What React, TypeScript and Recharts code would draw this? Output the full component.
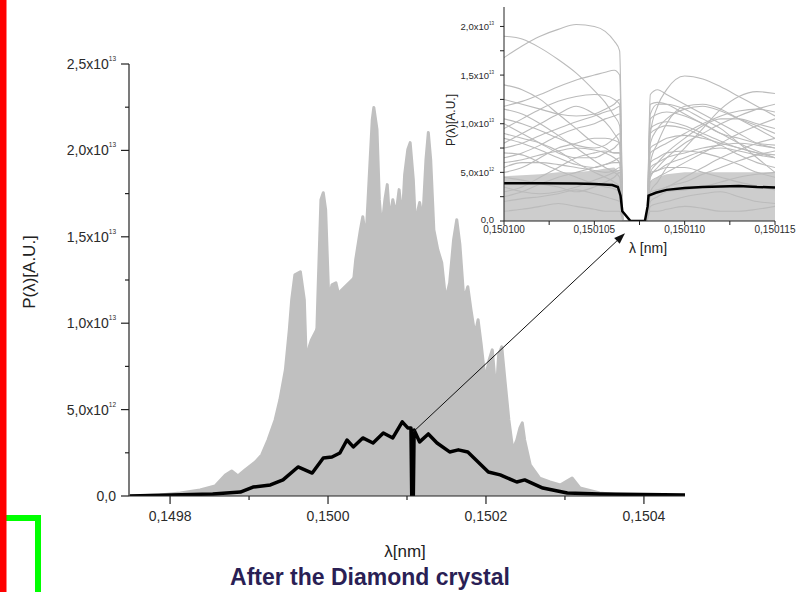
import React from 'react';
import { ComposedChart, Line, Area, XAxis, YAxis, ReferenceLine } from 'recharts';

const FONT = '"Liberation Sans", Arial, sans-serif';

// ---- main plot: wavelength in nm, power in units of 1e12 (A.U.)
const mainXTicks = [0.1498, 0.1499, 0.15, 0.1501, 0.1502, 0.1503, 0.1504];
const mainYTicks = [0, 2.5, 5, 7.5, 10, 12.5, 15, 17.5, 20, 22.5, 25];

// outline of the single-shot spectra (grey spikes)
const envelopeLambda = [
  0.149749, 0.149787, 0.149813, 0.149838, 0.149857, 0.14987, 0.149878, 0.149886, 0.149895, 0.149908,
  0.149916, 0.149924, 0.149933, 0.149939, 0.149946, 0.149951, 0.149954, 0.149958, 0.149965, 0.14997,
  0.149972, 0.149976, 0.14998, 0.149984, 0.149987, 0.149991, 0.149994, 0.149997, 0.150001, 0.150005,
  0.15001, 0.150015, 0.15002, 0.150025, 0.15003, 0.150035, 0.150041, 0.150044, 0.150048, 0.150052,
  0.150056, 0.150058, 0.150062, 0.150065, 0.150068, 0.150072, 0.150075, 0.150078, 0.150082, 0.150086,
  0.15009, 0.150094, 0.150097, 0.150101, 0.150104, 0.150108, 0.150111, 0.150114, 0.150116, 0.15012,
  0.150124, 0.150127, 0.15013, 0.150134, 0.150139, 0.150144, 0.150149, 0.150154, 0.150159, 0.150163,
  0.150167, 0.150172, 0.150177, 0.150181, 0.150186, 0.15019, 0.150194, 0.150199, 0.150204, 0.150208,
  0.150213, 0.150216, 0.15022, 0.150224, 0.150229, 0.150234, 0.150239, 0.150243, 0.150246, 0.150249,
  0.150256, 0.150268, 0.150281, 0.150294, 0.150309, 0.150319, 0.150344, 0.15037, 0.150452,
];
const envelopePower = [
  0, 0.06, 0.17, 0.35, 0.58, 1.22, 1.45, 1.16, 1.51, 1.97,
  2.38, 3.24, 4.4, 5.56, 7.3, 9.62, 11.36, 12.8, 12.98, 11.36,
  8.46, 6.72, 7.18, 6.72, 11.36, 17.15, 17.55, 16.57, 11.36, 12.22,
  12.34, 11.36, 11.65, 11.94, 11.36, 13.67, 15.41, 16.16, 14.83, 18.31,
  21.78, 22.48, 21.21, 17.15, 15.41, 17.15, 18.02, 15.99, 17.15, 16.28,
  17.73, 15.99, 18.6, 20.05, 20.45, 18.31, 15.41, 16.57, 16.98, 15.99,
  19.47, 21.03, 19.47, 15.41, 14.25, 13.5, 11.36, 12.34, 14.83, 15.99,
  14.54, 11.36, 12.11, 10.78, 9.33, 10.2, 8.75, 6.72, 7.88, 8.46,
  5.85, 8.17, 8.63, 6.72, 4.4, 2.67, 3.24, 3.94, 4.23, 3.24,
  1.8, 1.04, 0.81, 0.64, 1.04, 0.46, 0.17, 0.06, 0,
];

// densely overlapping part of the grey spectra
const denseLambda = [
  0.149749, 0.1498, 0.149838, 0.149876, 0.149908, 0.149927, 0.149939, 0.149952, 0.149965, 0.149977,
  0.14999, 0.150003, 0.150015, 0.150028, 0.150041, 0.150053, 0.150066, 0.150078, 0.150091, 0.150104,
  0.150116, 0.150129, 0.150142, 0.150154, 0.150167, 0.15018, 0.150192, 0.150205, 0.150218, 0.15023,
  0.150243, 0.150256, 0.150275, 0.150294, 0.150319, 0.15037, 0.150452,
];
const densePower = [
  0, 0.12, 0.35, 0.93, 1.62, 2.67, 4.11, 5.85, 7.3, 9.04,
  10.2, 11.36, 11.94, 12.51, 13.09, 13.67, 14.25, 14.54, 14.25, 13.96,
  13.67, 12.51, 11.36, 10.2, 9.04, 7.88, 6.14, 4.98, 4.11, 2.67,
  1.51, 1.04, 0.64, 0.35, 0.17, 0.06, 0,
];

// averaged spectrum (black)
const meanLambda = [
  0.149749, 0.149854, 0.149889, 0.149905, 0.149927, 0.149943, 0.149962, 0.14998, 0.149994, 0.150005,
  0.150015, 0.150024, 0.150032, 0.150044, 0.150057, 0.15007, 0.150082, 0.150094, 0.150101, 0.150105,
  0.150106, 0.150108, 0.150109, 0.150116, 0.150127, 0.150138, 0.150154, 0.150165, 0.150177, 0.150203,
  0.150218, 0.150239, 0.150249, 0.150272, 0.150303, 0.150344, 0.150452,
];
const meanPower = [
  0, 0.12, 0.23, 0.52, 0.64, 0.93, 1.68, 1.33, 2.2, 2.26,
  2.49, 3.24, 2.84, 3.36, 3.07, 3.65, 3.36, 4.29, 3.94, 3.94,
  0, 0, 3.82, 3.13, 3.59, 3.07, 2.55, 2.67, 2.55, 1.39,
  1.22, 0.81, 0.93, 0.46, 0.17, 0.12, 0.06,
];

// ---- inset: zoom around the Bragg dip
const insetXTicks = [0.1501, 0.1501025, 0.150105, 0.1501075, 0.15011, 0.1501125, 0.150115];
const insetYTicks = [0, 2.5, 5, 7.5, 10, 12.5, 15, 17.5, 20];

const insetLambda = [
  0.1501, 0.150101, 0.150102, 0.150103, 0.150104, 0.150105, 0.1501056, 0.1501061, 0.1501064, 0.1501066,
  0.1501079, 0.1501081, 0.1501085, 0.150109, 0.15011, 0.150111, 0.150112, 0.150113, 0.150114, 0.150115,
];
const insetShot1 = [16.8, 18.0, 19.0, 19.7, 20.2, 20.0, 19.5, 18.5, 17.5, 0, 0, 9.0, 11.8, 13.5, 14.9, 14.6, 13.8, 12.8, 11.8, 10.8];
const insetShot2 = [19.0, 18.7, 17.8, 16.6, 15.2, 13.4, 12.2, 10.8, 9.8, 0, 0, 6.0, 8.0, 10.0, 11.8, 12.0, 11.5, 10.5, 9.5, 8.5];
const insetShot3 = [11.8, 12.3, 13.0, 13.8, 14.5, 15.0, 15.3, 15.5, 15.0, 0, 0, 3.0, 4.0, 5.5, 7.5, 9.5, 11.5, 12.8, 13.3, 13.1];
const insetShot4 = [9.5, 10.5, 11.5, 12.3, 12.8, 13.0, 12.9, 12.5, 12.0, 0, 0, 11.0, 12.0, 12.0, 11.5, 10.5, 9.5, 8.0, 6.5, 5.0];
const insetShot5 = [11.5, 11.0, 10.0, 8.8, 7.5, 6.2, 5.5, 5.0, 4.5, 0, 0, 8.0, 9.5, 10.5, 11.5, 11.8, 11.3, 10.5, 9.8, 9.0];
const insetShot6 = [8.0, 9.0, 10.0, 11.0, 11.8, 11.0, 10.2, 9.0, 8.0, 0, 0, 7.0, 7.5, 8.0, 9.0, 10.0, 10.8, 11.3, 11.5, 11.2];
const insetShot7 = [6.5, 7.0, 7.8, 8.8, 9.5, 10.0, 10.5, 10.8, 11.0, 0, 0, 5.0, 6.0, 7.0, 8.5, 9.8, 10.5, 10.5, 10.0, 9.5];
const insetShot8 = [9.0, 8.5, 8.0, 7.2, 6.0, 5.0, 4.5, 4.0, 3.5, 0, 0, 4.0, 4.5, 5.0, 6.0, 7.0, 8.0, 9.0, 9.8, 10.5];
const insetShot9 = [5.0, 5.5, 6.5, 7.5, 8.0, 8.5, 8.5, 8.3, 8.0, 0, 0, 9.0, 9.5, 9.8, 9.5, 8.7, 7.8, 6.8, 6.0, 5.5];
const insetShot10 = [3.0, 3.5, 4.5, 5.5, 6.5, 7.0, 7.2, 7.0, 7.0, 0, 0, 3.0, 3.2, 3.5, 4.5, 5.5, 6.5, 7.3, 8.0, 8.5];
const insetShot11 = [7.0, 6.8, 6.0, 5.2, 4.5, 3.8, 3.5, 3.3, 3.0, 0, 0, 6.0, 6.5, 7.0, 7.2, 7.0, 6.5, 5.8, 5.0, 4.5];
const insetShot12 = [4.5, 4.2, 3.8, 3.5, 3.0, 3.5, 4.0, 4.5, 5.0, 0, 0, 2.0, 2.5, 3.0, 3.2, 3.5, 4.0, 4.5, 4.8, 5.0];
const insetShot13 = [2.0, 2.3, 2.5, 2.8, 3.2, 2.8, 2.5, 2.2, 2.0, 0, 0, 1.5, 1.8, 2.0, 2.5, 2.8, 3.0, 2.5, 2.0, 1.8];
const insetShot14 = [1.0, 1.2, 1.5, 1.8, 1.5, 1.2, 1.0, 1.0, 1.0, 0, 0, 1.0, 1.0, 1.2, 1.5, 1.3, 1.0, 1.0, 1.2, 1.5];
const insetShot15 = [6.0, 6.3, 6.8, 7.2, 7.5, 7.3, 7.0, 6.5, 6.0, 0, 0, 5.5, 6.0, 6.5, 7.0, 7.5, 7.8, 8.0, 7.8, 7.5];
const insetShot16 = [8.5, 8.0, 7.3, 6.5, 5.8, 5.5, 5.8, 6.2, 6.5, 0, 0, 7.5, 8.0, 8.5, 8.8, 8.5, 8.0, 7.5, 7.0, 6.5];
const insetShot17 = [10.5, 10.0, 9.3, 8.5, 7.8, 7.5, 7.8, 8.5, 9.0, 0, 0, 10.5, 11.0, 11.2, 10.8, 10.0, 9.0, 8.0, 7.2, 6.5];
const insetShot18 = [5.5, 6.0, 6.0, 5.8, 5.5, 5.2, 5.0, 5.2, 5.5, 0, 0, 4.8, 5.2, 5.8, 6.5, 7.2, 7.5, 7.2, 6.8, 6.5];
const insetShot19 = [7.5, 8.0, 8.8, 9.5, 10.2, 10.8, 11.2, 11.5, 11.8, 0, 0, 9.5, 10.0, 10.2, 9.8, 9.0, 8.2, 7.5, 7.0, 6.8];
const insetShot20 = [12.5, 12.0, 11.5, 11.0, 10.8, 11.0, 11.5, 12.0, 12.5, 0, 0, 12.0, 12.2, 12.0, 11.0, 10.0, 9.0, 8.5, 8.0, 7.8];
const insetShot21 = [3.5, 3.0, 2.8, 3.0, 3.5, 4.2, 4.6, 5.0, 5.2, 0, 0, 5.0, 5.2, 5.5, 5.5, 5.0, 4.5, 4.0, 3.6, 3.2];
const insetShot22 = [2.5, 3.0, 3.8, 4.5, 5.0, 5.5, 5.8, 6.0, 6.0, 0, 0, 2.5, 3.0, 3.5, 4.0, 4.8, 5.5, 6.2, 6.8, 7.2];
const insetShot23 = [10.0, 9.0, 8.0, 7.0, 6.5, 6.5, 7.0, 7.5, 8.0, 0, 0, 13.0, 13.5, 13.0, 12.0, 11.0, 10.0, 9.0, 8.0, 7.5];
const insetShot24 = [14.0, 13.5, 12.5, 11.0, 9.5, 8.0, 7.5, 7.0, 7.0, 0, 0, 4.5, 5.5, 6.5, 8.0, 9.0, 10.0, 10.8, 11.5, 12.0];
const insetDense = [4.6, 4.7, 4.8, 5.0, 5.0, 5.2, 5.4, 5.5, 5.0, 0, 0, 4.0, 4.5, 4.8, 5.0, 5.0, 5.0, 5.0, 5.0, 5.0];

const insetMeanLambda = [
  0.1501, 0.150102, 0.150104, 0.150105, 0.1501055, 0.150106, 0.1501063, 0.15010645, 0.15010655, 0.150107,
  0.1501078, 0.15010795, 0.150108, 0.1501084, 0.150109, 0.15011, 0.150111, 0.150112, 0.150113, 0.150114, 0.150115,
];
const insetMeanPower = [3.87, 3.87, 3.85, 3.8, 3.75, 3.7, 3.5, 2.6, 1.0, 0, 0, 1.5, 2.6, 2.9, 3.2, 3.4, 3.5, 3.55, 3.6, 3.5, 3.45];

// arrow from the dip in the main plot to the inset (main plot coordinates)
const arrowFrom = { x: 0.1501076, y: 3.7 };
const arrowTo = { x: 0.150376, y: 15.2 };

const toRows = (xs: number[], ys: number[]) => xs.map((x, i) => ({ x, y: ys[i] }));
const insetShots = [
  insetShot1, insetShot2, insetShot3, insetShot4, insetShot5, insetShot6, insetShot7, insetShot8,
  insetShot9, insetShot10, insetShot11, insetShot12, insetShot13, insetShot14, insetShot15, insetShot16,
  insetShot17, insetShot18, insetShot19, insetShot20, insetShot21, insetShot22, insetShot23, insetShot24,
];

const powerLabel = (v: number) => {
  if (v === 0) return { base: '0,0', exp: '' };
  const exp = v >= 10 ? 13 : 12;
  const m = exp === 13 ? v / 10 : v;
  return { base: m.toFixed(1).replace('.', ',') + 'x10', exp: String(exp) };
};

const MainXTick = ({ x, y, payload }: any) => {
  const v = payload.value;
  const major = Math.round(v * 1e4) % 2 === 0;
  return (
    <g>
      <line x1={x} y1={y} x2={x} y2={y + (major ? 8 : 4)} stroke="#222" strokeWidth={1.2} />
      {major && (
        <text x={x} y={y + 25} textAnchor="middle" fontSize={14} fontFamily={FONT} fill="#2b2b2b">
          {v.toFixed(4).replace('.', ',')}
        </text>
      )}
    </g>
  );
};

const MainYTick = ({ x, y, payload }: any) => {
  const v = payload.value;
  const major = v % 5 === 0;
  const lab = powerLabel(v);
  return (
    <g>
      <line x1={x - (major ? 8 : 4)} y1={y} x2={x} y2={y} stroke="#222" strokeWidth={1.2} />
      {major && (
        <text x={x - 13} y={y + 5} textAnchor="end" fontSize={14} fontFamily={FONT} fill="#2b2b2b">
          <tspan>{lab.base}</tspan>
          {lab.exp && <tspan dy={-8} fontSize={6.5}>{lab.exp}</tspan>}
        </text>
      )}
    </g>
  );
};

const InsetXTick = ({ x, y, payload }: any) => {
  const v = payload.value;
  const major = Math.round(v * 1e7) % 50 === 0;
  return (
    <g>
      <line x1={x} y1={y} x2={x} y2={y + 4} stroke="#222" />
      {major && (
        <text x={x} y={y + 12} textAnchor="middle" fontSize={10} fontFamily={FONT} fill="#2b2b2b">
          {v.toFixed(6).replace('.', ',')}
        </text>
      )}
    </g>
  );
};

const InsetYTick = ({ x, y, payload }: any) => {
  const v = payload.value;
  const major = v % 5 === 0;
  const lab = powerLabel(v);
  return (
    <g>
      <line x1={x - 4} y1={y} x2={x} y2={y} stroke="#222" />
      {major && (
        <text x={x - 10} y={y + (v === 0 ? 1.5 : 3.5)} textAnchor="end" fontSize={9.5} fontFamily={FONT} fill="#2b2b2b">
          <tspan>{lab.base}</tspan>
          {lab.exp && <tspan dy={-5} fontSize={4.5}>{lab.exp}</tspan>}
        </text>
      )}
    </g>
  );
};

const Arrow = (props: any) => {
  const { x1, y1, x2, y2 } = props;
  const a = Math.atan2(y2 - y1, x2 - x1);
  const len = 11;
  const w = 4;
  const bx = x2 - len * Math.cos(a);
  const by = y2 - len * Math.sin(a);
  const pts = [
    `${x2},${y2}`,
    `${bx + w * Math.sin(a)},${by - w * Math.cos(a)}`,
    `${bx - w * Math.sin(a)},${by + w * Math.cos(a)}`,
  ].join(' ');
  return (
    <g>
      <line x1={x1} y1={y1} x2={bx} y2={by} stroke="#111" strokeWidth={1} />
      <polygon points={pts} fill="#111" />
    </g>
  );
};

export default function App() {
  return (
    <div style={{ position: 'absolute', left: 0, top: 0, width: 807, height: 592, background: '#fff' }}>
      <div style={{ position: 'absolute', left: 0, top: 0 }}>
        <ComposedChart width={807} height={592} margin={{ top: 64, right: 122, bottom: 66, left: 69 }}>
          <XAxis
            type="number"
            dataKey="x"
            domain={[0.149748, 0.150452]}
            allowDataOverflow
            ticks={mainXTicks}
            interval={0}
            tick={<MainXTick />}
            tickSize={0}
            tickMargin={0}
            tickLine={false}
            axisLine={{ stroke: '#222', strokeWidth: 1.2 }}
            height={30}
          />
          <YAxis
            type="number"
            dataKey="y"
            domain={[0, 25]}
            allowDataOverflow
            ticks={mainYTicks}
            interval={0}
            tick={<MainYTick />}
            tickSize={0}
            tickMargin={0}
            tickLine={false}
            axisLine={{ stroke: '#222', strokeWidth: 1.2 }}
            width={60}
          />
          <Area
            data={toRows(denseLambda, densePower)}
            dataKey="y"
            type="linear"
            stroke="none"
            fill="#c0c0c0"
            fillOpacity={1}
            isAnimationActive={false}
          />
          <Area
            data={toRows(envelopeLambda, envelopePower)}
            dataKey="y"
            type="linear"
            stroke="#c0c0c0"
            strokeWidth={3}
            strokeLinejoin="round"
            fill="#c0c0c0"
            fillOpacity={1}
            dot={false}
            isAnimationActive={false}
          />
          <Line
            data={toRows(meanLambda, meanPower)}
            dataKey="y"
            type="linear"
            stroke="#000"
            strokeWidth={3.5}
            strokeLinejoin="round"
            dot={false}
            isAnimationActive={false}
          />
          <ReferenceLine segment={[arrowFrom, arrowTo]} shape={<Arrow />} ifOverflow="visible" />
        </ComposedChart>
      </div>

      <div style={{ position: 'absolute', left: 440, top: 0 }}>
        <ComposedChart width={367} height={270} margin={{ top: 7, right: 32, bottom: 24, left: 14 }}>
          <XAxis
            type="number"
            dataKey="x"
            domain={[0.1501, 0.150115]}
            allowDataOverflow
            ticks={insetXTicks}
            interval={0}
            tick={<InsetXTick />}
            tickSize={0}
            tickMargin={0}
            tickLine={false}
            axisLine={{ stroke: '#222' }}
            height={25}
          />
          <YAxis
            type="number"
            dataKey="y"
            domain={[0, 22]}
            allowDataOverflow
            ticks={insetYTicks}
            interval={0}
            tick={<InsetYTick />}
            tickSize={0}
            tickMargin={0}
            tickLine={false}
            axisLine={{ stroke: '#222' }}
            width={50}
          />
          <Area
            data={toRows(insetLambda, insetDense)}
            dataKey="y"
            type="linear"
            stroke="none"
            fill="#cdcdcd"
            fillOpacity={1}
            isAnimationActive={false}
          />
          {insetShots.map((shot, i) => (
            <Line
              key={i}
              data={toRows(insetLambda, shot)}
              dataKey="y"
              type="monotone"
              stroke="#bbbbbb"
              strokeWidth={1.1}
              dot={false}
              isAnimationActive={false}
            />
          ))}
          <Line
            data={toRows(insetMeanLambda, insetMeanPower)}
            dataKey="y"
            type="linear"
            stroke="#000"
            strokeWidth={2.5}
            dot={false}
            isAnimationActive={false}
          />
        </ComposedChart>
      </div>

      <svg width={807} height={592} style={{ position: 'absolute', left: 0, top: 0, pointerEvents: 'none' }}>
        <rect x={0} y={515} width={41} height={6} fill="#00ff00" />
        <rect x={35} y={515} width={6} height={77} fill="#00ff00" />
        <rect x={0} y={0} width={6.5} height={592} fill="#ff0000" />
        <text
          x={29}
          y={272}
          transform="rotate(-90 29 272)"
          textAnchor="middle"
          dominantBaseline="central"
          fontSize={17}
          fontFamily={FONT}
          fill="#222"
        >
          P(λ)[A.U.]
        </text>
        <text x={405} y={557} textAnchor="middle" fontSize={17} fontFamily={FONT} fill="#222">
          λ[nm]
        </text>
        <text x={370} y={585} textAnchor="middle" fontSize={23} fontWeight="bold" fontFamily={FONT} fill="#2a1f55">
          After the Diamond crystal
        </text>
        <text
          x={451}
          y={120}
          transform="rotate(-90 451 120)"
          textAnchor="middle"
          dominantBaseline="central"
          fontSize={12}
          fontFamily={FONT}
          fill="#222"
        >
          P(λ)[A.U.]
        </text>
        <text x={648} y={253} textAnchor="middle" fontSize={14} fontFamily={FONT} fill="#222">
          λ [nm]
        </text>
      </svg>
    </div>
  );
}
